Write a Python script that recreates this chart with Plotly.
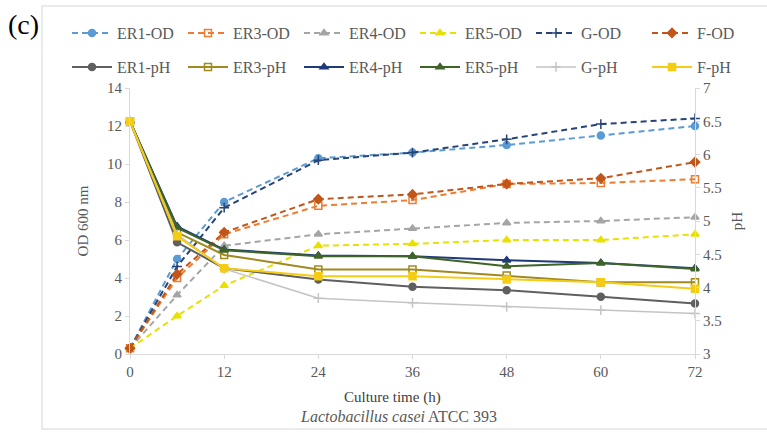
import plotly.graph_objects as go

hours = [0, 6, 12, 24, 36, 48, 60, 72]
x_ticks = [0, 12, 24, 36, 48, 60, 72]

# OD 600 nm (left axis)
er1_od = [0.3, 5.0, 8.0, 10.3, 10.6, 11.0, 11.5, 12.0]
er3_od = [0.3, 4.0, 6.3, 7.8, 8.1, 8.95, 9.0, 9.2]
er4_od = [0.3, 3.1, 5.7, 6.3, 6.6, 6.9, 7.0, 7.2]
er5_od = [0.3, 2.0, 3.6, 5.7, 5.8, 6.0, 6.0, 6.3]
g_od = [0.3, 4.6, 7.7, 10.2, 10.6, 11.3, 12.1, 12.4]
f_od = [0.3, 4.2, 6.4, 8.15, 8.4, 8.95, 9.25, 10.1]

# pH (right axis)
er1_ph = [6.5, 4.68, 4.29, 4.12, 4.01, 3.96, 3.86, 3.76]
er3_ph = [6.5, 4.83, 4.49, 4.27, 4.27, 4.18, 4.08, 4.08]
er4_ph = [6.5, 4.92, 4.57, 4.48, 4.47, 4.41, 4.37, 4.29]
er5_ph = [6.5, 4.90, 4.56, 4.47, 4.47, 4.32, 4.37, 4.28]
g_ph = [6.5, 4.80, 4.28, 3.84, 3.77, 3.71, 3.66, 3.61]
f_ph = [6.5, 4.77, 4.29, 4.17, 4.17, 4.12, 4.08, 3.98]

SERIF = "'Liberation Serif', 'Times New Roman', serif"
GREY = "#595959"

fig = go.Figure()

od_series = [
    ("ER1-OD", er1_od, "#5B9BD5", "circle"),
    ("ER3-OD", er3_od, "#ED7D31", "square-open"),
    ("ER4-OD", er4_od, "#A5A5A5", "triangle-up"),
    ("ER5-OD", er5_od, "#E8E000", "triangle-up"),
    ("G-OD", g_od, "#264478", "cross-thin-open"),
    ("F-OD", f_od, "#C0561A", "diamond"),
]
for name, vals, col, sym in od_series:
    fig.add_trace(go.Scatter(
        x=hours, y=vals, name=name, mode="lines+markers", yaxis="y",
        line=dict(color=col, width=2, dash="6px,4px"),
        marker=dict(color=col, symbol=sym, size=7, line=dict(color=col, width=1.5)),
        cliponaxis=False, legend="legend",
    ))

ph_series = [
    ("ER1-pH", er1_ph, "#5F5F5F", "circle", 2),
    ("ER3-pH", er3_ph, "#A08A1E", "square-open", 2),
    ("ER4-pH", er4_ph, "#1F3A78", "triangle-up", 2),
    ("ER5-pH", er5_ph, "#3F6428", "triangle-up", 2),
    ("G-pH", g_ph, "#C4C4C4", "cross-thin-open", 1.5),
    ("F-pH", f_ph, "#F5CC14", "square", 2),
]
for name, vals, col, sym, w in ph_series:
    fig.add_trace(go.Scatter(
        x=hours, y=vals, name=name, mode="lines+markers", yaxis="y2",
        line=dict(color=col, width=w),
        marker=dict(color=col, symbol=sym, size=7, line=dict(color=col, width=1.5)),
        cliponaxis=False, legend="legend2",
    ))

L, R, T, B = 130, 72, 88, 79
W, H = 767, 433
pw, ph = W - L - R, H - T - B

def px(xp):
    return (xp - L) / pw

def py(yp):
    return (H - B - yp) / ph

axis_common = dict(
    showgrid=False, zeroline=False, showline=True, linecolor="#D9D9D9", linewidth=1,
    ticks="outside", tickcolor="#D9D9D9", ticklen=4,
    tickfont=dict(family=SERIF, size=15, color=GREY),
)

legend_common = dict(
    orientation="h", xanchor="left", yanchor="middle",
    entrywidth=61, entrywidthmode="pixels", itemwidth=40,
    font=dict(family=SERIF, size=16, color=GREY), bgcolor="rgba(0,0,0,0)",
    tracegroupgap=0,
)

fig.update_layout(
    width=W, height=H,
    margin=dict(l=L, r=R, t=T, b=B),
    paper_bgcolor="white", plot_bgcolor="white",
    showlegend=True,
    font=dict(family=SERIF),
    xaxis=dict(range=[0, 72], tickvals=x_ticks, **axis_common),
    yaxis=dict(range=[0, 14], dtick=2,
               title=dict(text="OD 600 nm", font=dict(family=SERIF, size=15, color=GREY), standoff=14),
               **axis_common),
    yaxis2=dict(range=[3, 7], tickvals=[3, 3.5, 4, 4.5, 5, 5.5, 6, 6.5, 7],
                ticktext=["3", "3.5", "4", "4.5", "5", "5.5", "6", "6.5", "7"],
                overlaying="y", side="right",
                title=dict(text="pH", font=dict(family=SERIF, size=15, color=GREY), standoff=10),
                **axis_common),
    legend=dict(x=px(67), y=py(33), **legend_common),
    legend2=dict(x=px(67), y=py(67), **legend_common),
    annotations=[
        dict(text="Culture time (h)", x=px(392), y=py(397), xref="paper", yref="paper",
             showarrow=False, font=dict(family=SERIF, size=15, color="#404040"),
             xanchor="center", yanchor="middle"),
        dict(text="<i>Lactobacillus casei</i> ATCC 393", x=px(398), y=py(416),
             xref="paper", yref="paper", showarrow=False,
             font=dict(family=SERIF, size=16, color=GREY), xanchor="center", yanchor="middle"),
        dict(text="(c)", x=px(6), y=py(24), xref="paper", yref="paper", showarrow=False,
             font=dict(family=SERIF, size=28, color="black"), xanchor="left", yanchor="middle"),
    ],
    shapes=[
        dict(type="rect", xref="paper", yref="paper", x0=px(42), x1=px(770), y0=py(429), y1=py(6),
             line=dict(color="#E3E3E3", width=1.5), fillcolor="rgba(0,0,0,0)", layer="below"),
    ],
)

fig.write_html("out.html")
